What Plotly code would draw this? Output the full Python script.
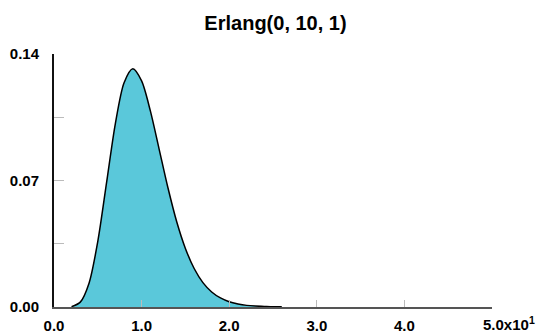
import plotly.graph_objects as go

# Erlang(0, 10, 1) density, sampled along x (units of the axis before the x10^1 factor)
x_vals = [2, 3, 4, 5, 6, 7, 8, 9, 10, 11, 12, 13, 14, 15, 16, 17, 18, 19, 20,
          21, 22, 23, 24, 25, 26]
pdf_vals = [0.0002, 0.0027, 0.0132, 0.0363, 0.0688, 0.1014, 0.1241, 0.1318,
            0.1251, 0.1085, 0.0874, 0.0661, 0.0473, 0.0324, 0.0213, 0.0135,
            0.0083, 0.0050, 0.0029, 0.0017, 0.0009, 0.0005, 0.0003, 0.0001,
            0.0001]

x_ticks = [0, 10, 20, 30, 40, 50]
x_tick_text = ["0.0", "1.0", "2.0", "3.0", "4.0", ""]
y_ticks = [0, 0.035, 0.07, 0.105, 0.14]
y_tick_text = ["0.00", "", "0.07", "", "0.14"]

FONT = "Liberation Sans, Arial, sans-serif"

fig = go.Figure()
fig.add_trace(go.Scatter(
    x=x_vals, y=pdf_vals,
    mode="lines",
    line=dict(color="#000000", width=1.5, shape="spline", smoothing=0.8),
    fill="tozeroy",
    fillcolor="#5AC8DA",
    hoverinfo="skip",
))

fig.update_layout(
    width=537, height=333,
    margin=dict(l=54, r=45, t=54, b=26, autoexpand=False),
    paper_bgcolor="white",
    plot_bgcolor="white",
    showlegend=False,
    title=dict(
        text="<b>Erlang(0, 10, 1)</b>",
        font=dict(family=FONT, size=20, color="#000000"),
        x=275.5 / 537, xanchor="center",
        y=0.932, yanchor="middle",
        automargin=False,
    ),
    font=dict(family=FONT, size=15, color="#000000"),
)

fig.update_xaxes(
    range=[0, 50],
    automargin=False,
    showgrid=False, zeroline=False,
    showline=True, linecolor="#555555", linewidth=2,
    tickmode="array", tickvals=x_ticks, ticktext=x_tick_text,
    ticks="inside", ticklen=7, tickwidth=1, tickcolor="#BBBBBB",
    tickfont=dict(family=FONT, size=15, color="#000000", weight="bold"),
    ticklabelstandoff=4,
)
fig.update_yaxes(
    range=[0, 0.14],
    automargin=False,
    showgrid=False, zeroline=False,
    showline=True, linecolor="#111111", linewidth=2,
    tickmode="array", tickvals=y_ticks, ticktext=y_tick_text,
    ticks="inside", ticklen=10, tickwidth=1, tickcolor="#BBBBBB",
    tickfont=dict(family=FONT, size=15, color="#000000", weight="bold"),
    ticklabelstandoff=10,
)

# last x tick label carries the axis multiplier
fig.add_annotation(
    x=50, y=0, xref="x", yref="paper",
    text="<b>5.0x10<sup>1</sup></b>",
    showarrow=False,
    xanchor="left", yanchor="top",
    xshift=-11, yshift=-5,
    font=dict(family=FONT, size=15, color="#000000"),
)

fig.write_html("out.html")
